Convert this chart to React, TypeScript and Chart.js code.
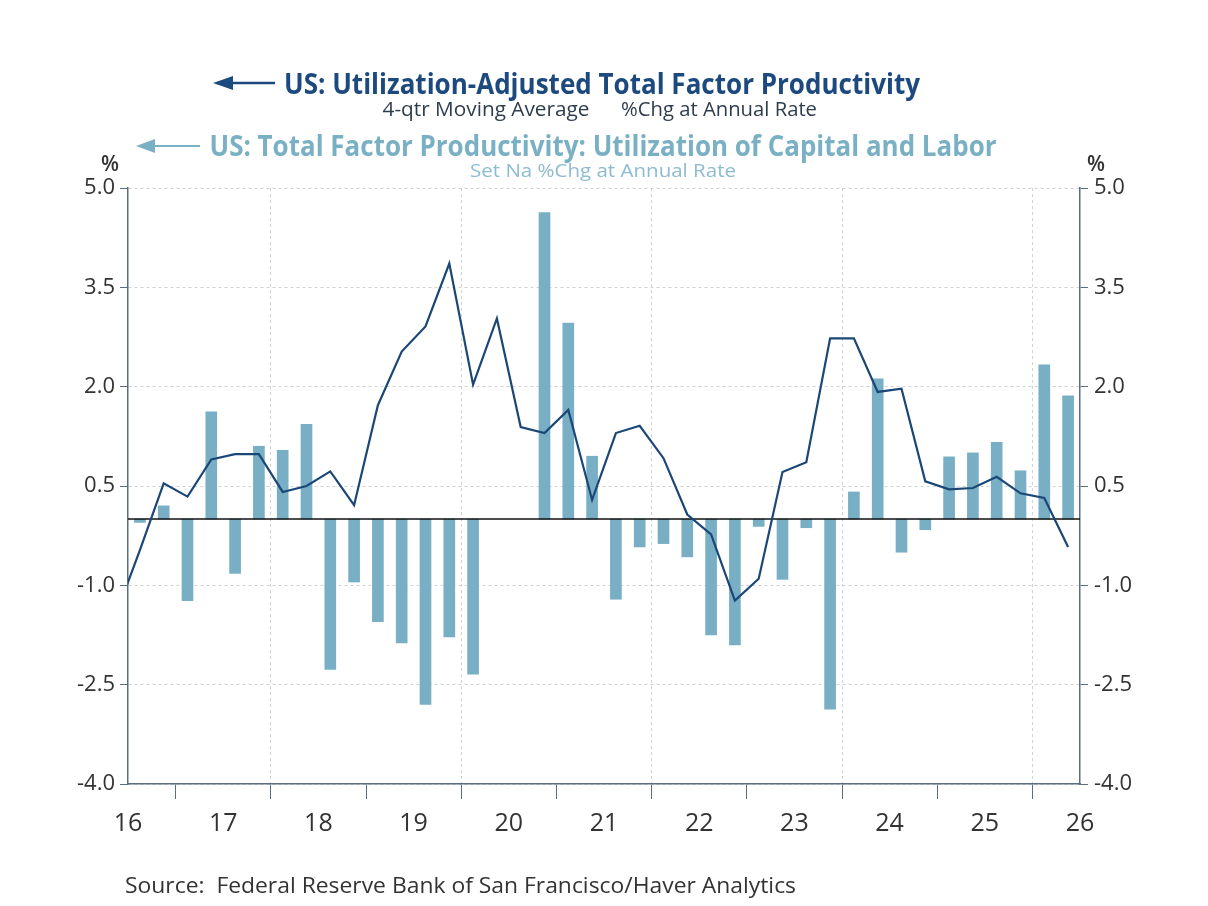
import React, { useEffect, useRef, useMemo } from 'react';
import { Chart, registerables } from 'chart.js';

Chart.register(...registerables);

// ---------------- DATA ----------------
const barQuarters = [
  '2016Q1', '2016Q2', '2016Q3', '2016Q4',
  '2017Q1', '2017Q2', '2017Q3', '2017Q4',
  '2018Q1', '2018Q2', '2018Q3', '2018Q4',
  '2019Q1', '2019Q2', '2019Q3', '2019Q4',
  '2020Q1', '2020Q2', '2020Q3', '2020Q4',
  '2021Q1', '2021Q2', '2021Q3', '2021Q4',
  '2022Q1', '2022Q2', '2022Q3', '2022Q4',
  '2023Q1', '2023Q2', '2023Q3', '2023Q4',
  '2024Q1', '2024Q2', '2024Q3', '2024Q4',
  '2025Q1', '2025Q2', '2025Q3', '2025Q4',
];

// US: Total Factor Productivity: Utilization of Capital and Labor (bars)
const utilizationValues: (number | null)[] = [
  -0.05, 0.2, -1.23, 1.62,
  -0.82, 1.1, 1.04, 1.43,
  -2.27, -0.95, -1.55, -1.87,
  -2.8, -1.78, -2.34, null,
  null, 4.63, 2.96, 0.95,
  -1.21, -0.42, -0.37, -0.57,
  -1.75, -1.9, -0.11, -0.91,
  -0.13, -2.87, 0.41, 2.12,
  -0.5, -0.16, 0.94, 1.0,
  1.16, 0.73, 2.33, 1.86,
];

const lineQuarters = [
  '2015Q4',
  '2016Q1', '2016Q2', '2016Q3', '2016Q4',
  '2017Q1', '2017Q2', '2017Q3', '2017Q4',
  '2018Q1', '2018Q2', '2018Q3', '2018Q4',
  '2019Q1', '2019Q2', '2019Q3', '2019Q4',
  '2020Q1', '2020Q2', '2020Q3', '2020Q4',
  '2021Q1', '2021Q2', '2021Q3', '2021Q4',
  '2022Q1', '2022Q2', '2022Q3', '2022Q4',
  '2023Q1', '2023Q2', '2023Q3', '2023Q4',
  '2024Q1', '2024Q2', '2024Q3', '2024Q4',
  '2025Q1', '2025Q2', '2025Q3', '2025Q4',
];

// US: Utilization-Adjusted Total Factor Productivity, 4-qtr moving average (line)
const adjustedTfpValues = [
  -1.43,
  -0.47, 0.54, 0.34, 0.9,
  0.98, 0.98, 0.41, 0.5,
  0.72, 0.21, 1.72, 2.53,
  2.91, 3.86, 2.03, 3.03,
  1.39, 1.3, 1.65, 0.29,
  1.3, 1.41, 0.92, 0.07,
  -0.23, -1.23, -0.9, 0.71,
  0.86, 2.73, 2.73, 1.92,
  1.97, 0.57, 0.45, 0.47,
  0.64, 0.39, 0.32, -0.42,
];

const yearStarts = [2016, 2017, 2018, 2019, 2020, 2021, 2022, 2023, 2024, 2025, 2026];
const yearLabels = ['16', '17', '18', '19', '20', '21', '22', '23', '24', '25', '26'];
const midYears = [2016.5, 2017.5, 2018.5, 2019.5, 2020.5, 2021.5, 2022.5, 2023.5, 2024.5, 2025.5];
const gridYears = [2017.5, 2019.5, 2021.5, 2023.5, 2025.5];
const yTicks = [-4, -2.5, -1, 0.5, 2, 3.5, 5];

// ---------------- STYLE ----------------
const BAR_COLOR = '#78afc4';
const LINE_COLOR = '#1b4777';
const AXIS_COLOR = '#5d6d7e';
const GRID_COLOR = '#d2d2d2';
const TICK_TEXT = '#333333';
const FONT = 'Open Sans';
const TRANSPARENT = 'rgba(0,0,0,0)';

const toX = (q: string) => parseInt(q.slice(0, 4), 10) + (parseInt(q.slice(5), 10) - 0.5) / 4;

const zeroLinePlugin = {
  id: 'zeroLine',
  afterDatasetDraw(chart: any, args: any) {
    if (args.index !== 0) return;
    const { ctx, chartArea } = chart;
    const y = chart.scales.y.getPixelForValue(0);
    ctx.save();
    ctx.strokeStyle = '#111111';
    ctx.lineWidth = 1.5;
    ctx.beginPath();
    ctx.moveTo(chartArea.left, y);
    ctx.lineTo(chartArea.right, y);
    ctx.stroke();
    ctx.restore();
  },
};

type FitProps = {
  text: string;
  x: number;
  y: number;
  w: number;
  size: number;
  weight?: number;
  color: string;
  anchor?: 'center' | 'left';
};

function FitText({ text, x, y, w, size, weight = 400, color, anchor = 'center' }: FitProps) {
  const scale = useMemo(() => {
    const c = document.createElement('canvas').getContext('2d');
    if (!c) return 1;
    c.font = `${weight} ${size}px "${FONT}"`;
    const m = c.measureText(text).width;
    return m > 0 ? w / m : 1;
  }, [text, w, size, weight]);
  const style: React.CSSProperties = {
    position: 'absolute',
    left: x,
    top: y,
    fontFamily: `"${FONT}"`,
    fontSize: size,
    fontWeight: weight,
    color,
    whiteSpace: 'pre',
    lineHeight: 1,
    transform:
      anchor === 'center'
        ? `translate(-50%, -50%) scaleX(${scale})`
        : `translateY(-50%) scaleX(${scale})`,
    transformOrigin: anchor === 'center' ? '50% 50%' : '0 50%',
  };
  return <div style={style}>{text}</div>;
}

function Arrow({ tip, end, y, head, headH, thick, color }: { tip: number; end: number; y: number; head: number; headH: number; thick: number; color: string }) {
  return (
    <svg
      style={{ position: 'absolute', left: 0, top: 0, overflow: 'visible' }}
      width={1208}
      height={906}
    >
      <polygon points={`${tip},${y} ${tip + head},${y - headH / 2} ${tip + head},${y + headH / 2}`} fill={color} />
      <line x1={tip + head - 1} y1={y} x2={end} y2={y} stroke={color} strokeWidth={thick} />
    </svg>
  );
}

export default function App() {
  const canvasRef = useRef<HTMLCanvasElement | null>(null);

  useEffect(() => {
    const canvas = canvasRef.current;
    if (!canvas) return;

    const barData = barQuarters.map((q, i) => ({ x: toX(q), y: utilizationValues[i] }));
    const lineData = lineQuarters.map((q, i) => ({ x: toX(q), y: adjustedTfpValues[i] }));

    const chart = new Chart(canvas, {
      type: 'bar',
      data: {
        datasets: [
          {
            type: 'bar',
            data: barData as any,
            backgroundColor: BAR_COLOR,
            barThickness: 11,
            order: 2,
            yAxisID: 'y',
            xAxisID: 'x',
          },
          {
            type: 'line',
            data: lineData as any,
            borderColor: LINE_COLOR,
            borderWidth: 2.2,
            pointRadius: 0,
            tension: 0,
            fill: false,
            order: 1,
            yAxisID: 'y',
            xAxisID: 'x',
          },
        ],
      },
      options: {
        responsive: false,
        animation: false,
        devicePixelRatio: 1,
        layout: { padding: { top: 188, left: 0, right: 0, bottom: 0 } },
        plugins: {
          legend: { display: false },
          tooltip: { enabled: false },
          title: { display: false },
        },
        scales: {
          x: {
            type: 'linear',
            min: 2016,
            max: 2026,
            offset: false,
            afterBuildTicks: (s: any) => {
              const vals = [...yearStarts, ...midYears].sort((a, b) => a - b);
              s.ticks = vals.map((v) => ({ value: v }));
            },
            afterFit: (s: any) => {
              s.height = 122;
            },
            ticks: {
              autoSkip: false,
              maxRotation: 0,
              minRotation: 0,
              padding: 10,
              color: TICK_TEXT,
              font: { family: FONT, size: 25 },
              callback: (v: any) => {
                const idx = yearStarts.indexOf(Number(v));
                return idx >= 0 ? yearLabels[idx] : '';
              },
            },
            grid: {
              offset: false,
              lineWidth: 1,
              tickLength: 15,
              color: (ctx: any) =>
                ctx.tick && gridYears.includes(ctx.tick.value) ? GRID_COLOR : TRANSPARENT,
              tickColor: (ctx: any) =>
                ctx.tick && midYears.includes(ctx.tick.value) ? AXIS_COLOR : TRANSPARENT,
              tickWidth: 1,
            },
            border: { display: true, color: AXIS_COLOR, width: 1.5, dash: [3, 3] },
          },
          y: {
            type: 'linear',
            position: 'left',
            min: -4,
            max: 5,
            afterBuildTicks: (s: any) => {
              s.ticks = yTicks.map((v) => ({ value: v }));
            },
            afterFit: (s: any) => {
              s.width = 128;
            },
            ticks: {
              padding: 5,
              color: TICK_TEXT,
              font: { family: FONT, size: 22 },
              callback: (v: any) => Number(v).toFixed(1),
            },
            grid: {
              color: GRID_COLOR,
              lineWidth: 1,
              tickLength: 8,
              tickColor: AXIS_COLOR,
            },
            border: { display: true, color: AXIS_COLOR, width: 1.5, dash: [3, 3] },
          },
          y1: {
            type: 'linear',
            position: 'right',
            min: -4,
            max: 5,
            afterBuildTicks: (s: any) => {
              s.ticks = yTicks.map((v) => ({ value: v }));
            },
            afterFit: (s: any) => {
              s.width = 128;
            },
            ticks: {
              padding: 6,
              color: TICK_TEXT,
              font: { family: FONT, size: 22 },
              callback: (v: any) => Number(v).toFixed(1),
            },
            grid: {
              drawOnChartArea: false,
              tickLength: 8,
              tickColor: AXIS_COLOR,
            },
            border: { display: true, color: AXIS_COLOR, width: 1.5 },
          },
        },
      } as any,
      plugins: [zeroLinePlugin],
    });

    return () => chart.destroy();
  }, []);

  return (
    <div
      style={{
        position: 'absolute',
        left: 0,
        top: 0,
        width: 1208,
        height: 906,
        background: '#ffffff',
        overflow: 'hidden',
      }}
    >
      <canvas
        ref={canvasRef}
        width={1208}
        height={906}
        style={{ position: 'absolute', left: 0, top: 0, width: 1208, height: 906 }}
      />
      <Arrow tip={213} end={275} y={83} head={20} headH={14} thick={2.5} color="#1c4a7e" />
      <FitText text="US: Utilization-Adjusted Total Factor Productivity" x={602} y={82} w={636} size={29} weight={700} color="#1c4a7e" />
      <FitText text="4-qtr Moving Average" x={486} y={109} w={207} size={20} color="#2e3d4d" />
      <FitText text="%Chg at Annual Rate" x={719} y={109} w={196} size={20} color="#2e3d4d" />
      <Arrow tip={136} end={200} y={146} head={19} headH={14} thick={2} color="#7ab0c4" />
      <FitText text="US: Total Factor Productivity: Utilization of Capital and Labor" x={603} y={144} w={787} size={29} weight={700} color="#7ab0c4" />
      <FitText text="Set Na %Chg at Annual Rate" x={603} y={170} w={266} size={19} color="#8dbcd0" />
      <FitText text="%" x={110} y={162} w={18} size={22} weight={600} color="#333333" />
      <FitText text="%" x={1096} y={162} w={18} size={22} weight={600} color="#333333" />
      <FitText
        text="Source:  Federal Reserve Bank of San Francisco/Haver Analytics"
        x={125}
        y={884}
        w={671}
        size={22}
        color="#333333"
        anchor="left"
      />
    </div>
  );
}
